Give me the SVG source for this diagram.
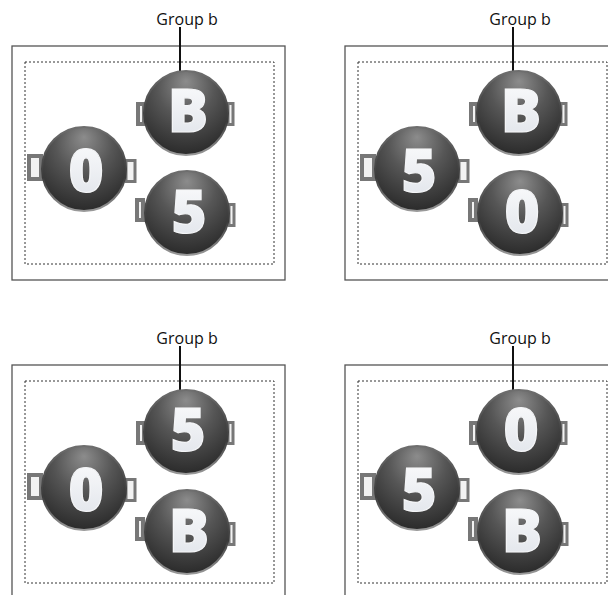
<svg xmlns="http://www.w3.org/2000/svg" xmlns:xlink="http://www.w3.org/1999/xlink" width="608" height="595" viewBox="0 0 608 595">
<style>
.outer{fill:none;stroke:#555;stroke-width:1.3}
.dash{fill:none;stroke:#333;stroke-width:1;stroke-dasharray:2 2}
.lbl{font-family:"Open Sans","Liberation Sans",sans-serif;font-size:16px;fill:#111;text-anchor:middle}
.conn{stroke:#111;stroke-width:2;fill:none}
.hdl{fill:#f2f2f2;stroke:#777;stroke-width:4}
.hdr{fill:#f2f2f2;stroke:#777;stroke-width:3}
.glyph{font-family:"Open Sans","DejaVu Sans",sans-serif;font-weight:800;font-size:60px;text-anchor:middle;fill:url(#gtxt);stroke:#f4f5f7;stroke-width:1.2}
</style>
<defs>
<radialGradient id="gball" cx="50%" cy="30%" r="75%" fx="50%" fy="12%">
<stop offset="0" stop-color="#8c8c8c"/>
<stop offset="0.45" stop-color="#565656"/>
<stop offset="1" stop-color="#262626"/>
</radialGradient>
<linearGradient id="grim" x1="0" y1="0" x2="0" y2="1">
<stop offset="0" stop-color="#6e6e6e"/>
<stop offset="0.6" stop-color="#3a3a3a"/>
<stop offset="1" stop-color="#9a9a9a"/>
</linearGradient>
<linearGradient id="gtxt" x1="0" y1="0" x2="0" y2="1">
<stop offset="0" stop-color="#ffffff"/>
<stop offset="1" stop-color="#dde1e8"/>
</linearGradient>
<g id="ball"><circle r="42" fill="url(#gball)" stroke="url(#grim)" stroke-width="2"/></g>
<g id="h-top"><rect class="hdl" x="-48" y="-9" width="6" height="20"/><rect class="hdr" x="42" y="-9.5" width="5" height="21"/></g>
<g id="h-left"><rect class="hdl" x="-55" y="-13" width="12" height="23"/><rect class="hdr" x="42" y="-8.5" width="9" height="21"/></g>
<g id="h-bot"><rect class="hdl" x="-50" y="-13" width="6" height="20"/><rect class="hdr" x="42" y="-8.5" width="5" height="21"/></g>
</defs>

<g id="panel-tl">
<rect class="outer" x="12" y="46" width="273" height="234"/>
<rect class="dash" x="25" y="62" width="249" height="202"/>
<text class="lbl" x="187" y="25">Group b</text>
</g>
<g id="panel-tr">
<rect class="outer" x="345" y="46" width="273" height="234"/>
<rect class="dash" x="358" y="62" width="249" height="202"/>
<text class="lbl" x="520" y="25">Group b</text>
</g>
<g id="panel-bl">
<rect class="outer" x="12" y="365" width="273" height="234"/>
<rect class="dash" x="25" y="381" width="249" height="202"/>
<text class="lbl" x="187" y="344">Group b</text>
</g>
<g id="panel-br">
<rect class="outer" x="345" y="365" width="273" height="234"/>
<rect class="dash" x="358" y="381" width="249" height="202"/>
<text class="lbl" x="520" y="344">Group b</text>
</g>

<g id="connectors">
<line class="conn" x1="180" y1="27" x2="180" y2="72"/>
<line class="conn" x1="513" y1="27" x2="513" y2="72"/>
<line class="conn" x1="180" y1="346" x2="180" y2="391"/>
<line class="conn" x1="513" y1="346" x2="513" y2="391"/>
</g>

<g id="tl-top" transform="translate(186,113)"><use xlink:href="#h-top"/><use xlink:href="#ball"/><text class="glyph" x="2" y="19">B</text></g>
<g id="tl-left" transform="translate(84,169)"><use xlink:href="#h-left"/><use xlink:href="#ball"/><text class="glyph" x="2" y="23">0</text></g>
<g id="tl-bot" transform="translate(187,213)"><use xlink:href="#h-bot"/><use xlink:href="#ball"/><text class="glyph" x="2" y="20">5</text></g>

<g id="tr-top" transform="translate(519,113)"><use xlink:href="#h-top"/><use xlink:href="#ball"/><text class="glyph" x="2" y="19">B</text></g>
<g id="tr-left" transform="translate(417,169)"><use xlink:href="#h-left"/><use xlink:href="#ball"/><text class="glyph" x="2" y="23">5</text></g>
<g id="tr-bot" transform="translate(520,213)"><use xlink:href="#h-bot"/><use xlink:href="#ball"/><text class="glyph" x="2" y="20">0</text></g>

<g id="bl-top" transform="translate(186,432)"><use xlink:href="#h-top"/><use xlink:href="#ball"/><text class="glyph" x="2" y="19">5</text></g>
<g id="bl-left" transform="translate(84,488)"><use xlink:href="#h-left"/><use xlink:href="#ball"/><text class="glyph" x="2" y="23">0</text></g>
<g id="bl-bot" transform="translate(187,532)"><use xlink:href="#h-bot"/><use xlink:href="#ball"/><text class="glyph" x="2" y="20">B</text></g>

<g id="br-top" transform="translate(519,432)"><use xlink:href="#h-top"/><use xlink:href="#ball"/><text class="glyph" x="2" y="19">0</text></g>
<g id="br-left" transform="translate(417,488)"><use xlink:href="#h-left"/><use xlink:href="#ball"/><text class="glyph" x="2" y="23">5</text></g>
<g id="br-bot" transform="translate(520,532)"><use xlink:href="#h-bot"/><use xlink:href="#ball"/><text class="glyph" x="2" y="20">B</text></g>
</svg>
